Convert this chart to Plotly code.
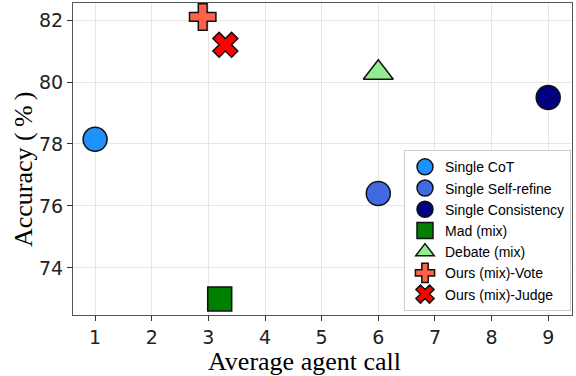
import plotly.graph_objects as go

names = ["Single CoT", "Single Self-refine", "Single Consistency", "Mad (mix)",
         "Debate (mix)", "Ours (mix)-Vote", "Ours (mix)-Judge"]
calls = [1, 6, 9, 3.2, 6, 2.9, 3.3]
accuracy = [78.15, 76.4, 79.5, 73.0, 80.3, 82.1, 81.2]
colors = ["#1E90FF", "#4169E1", "#000080", "#008000", "#90EE90", "#FF6347", "#FF0000"]
symbols = ["circle", "circle", "circle", "square", "triangle-up", "cross", "x"]
sizes = [24, 24, 24, 24, 26, 22, 22]
x_title = "Average agent call"
y_title = "Accuracy (\u2009%\u2009)"

fig = go.Figure()
for n, x, y, c, s, sz in zip(names, calls, accuracy, colors, symbols, sizes):
    fig.add_trace(go.Scatter(
        x=[x], y=[y], mode="markers", name=n,
        marker=dict(color=c, symbol=s, size=sz, line=dict(color="#111111", width=1.5)),
    ))

axis_common = dict(
    showgrid=True, gridcolor="#E6E6E6", gridwidth=1,
    showline=True, linecolor="#555555", linewidth=1.2, mirror=True,
    ticks="outside", ticklen=5, tickcolor="#333333",
    tickfont=dict(family="DejaVu Sans", size=19, color="#222222"),
    zeroline=False, automargin=False,
)
fig.update_layout(
    width=576, height=376,
    margin=dict(l=73, r=4, t=3, b=61),
    paper_bgcolor="white", plot_bgcolor="white",
    xaxis=dict(range=[0.61, 9.42], tickvals=list(range(1, 10)), **axis_common),
    yaxis=dict(range=[72.48, 82.55], tickvals=[74, 76, 78, 80, 82], **axis_common),
    legend=dict(x=0.998, y=0.012, xanchor="right", yanchor="bottom",
                bgcolor="rgba(255,255,255,0.9)", bordercolor="#CCCCCC", borderwidth=1,
                font=dict(family="Liberation Sans", size=14, color="black"),
                tracegroupgap=0, itemsizing="trace", itemwidth=30),
    showlegend=True,
    annotations=[
        dict(text=x_title, xref="paper", yref="paper", x=0.463, y=0, yshift=-46,
             xanchor="center", yanchor="middle", showarrow=False,
             font=dict(family="Liberation Serif", size=26, color="black")),
        dict(text=y_title, xref="paper", yref="paper", x=-0.098, y=0.465,
             xanchor="center", yanchor="middle", showarrow=False, textangle=-90,
             font=dict(family="Liberation Serif", size=26, color="black")),
    ],
)
fig.write_html("out.html", config={"displayModeBar": False},
               post_script="document.body.style.margin='0';document.body.style.overflow='hidden';")
